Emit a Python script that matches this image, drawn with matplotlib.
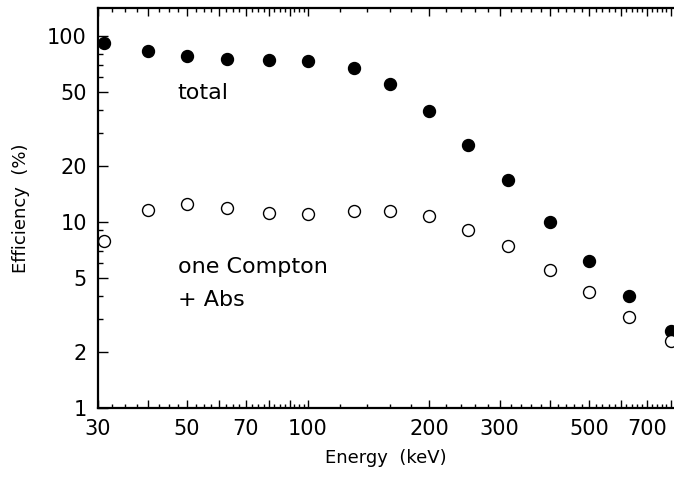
import numpy as np
import matplotlib
matplotlib.use('Agg')
import matplotlib.pyplot as plt
from matplotlib.ticker import FixedLocator, FuncFormatter, NullFormatter

# energies (keV) and efficiencies (%)
energy = [31, 40, 50, 63, 80, 100, 130, 160, 200, 250, 315, 400, 500, 630, 800]
eff_total = [91, 83, 78, 75, 74, 73, 67, 55, 39.5, 26, 16.8, 10.0, 6.2, 4.0, 2.6]
eff_compton = [7.9, 11.6, 12.5, 11.9, 11.2, 11.0, 11.5, 11.5, 10.7, 9.1, 7.4, 5.5, 4.2, 3.1, 2.3]

x_labels = [30, 50, 70, 100, 200, 300, 500, 700]
y_labels = [1, 2, 5, 10, 20, 50, 100]

plt.rcParams['font.family'] = ['DejaVu Sans']

fig = plt.figure(figsize=(6.74, 4.78), dpi=100)
ax = fig.add_axes([98 / 674, 1 - 408 / 478, 1 - 98 / 674, 400 / 478])

ax.plot(energy, eff_total, 'o', color='black', markersize=8.6)
ax.plot(energy, eff_compton, 'o', markerfacecolor='white', markeredgecolor='black',
        markeredgewidth=1.0, markersize=8.6)

ax.set_xscale('log')
ax.set_yscale('log')
ax.set_xlim(30, 815)
ax.set_ylim(1, 141)

# x ticks
x_major = [30, 40, 50, 60, 70, 80, 90, 100, 200, 300, 400, 500, 600, 700, 800]
x_minor = list(np.arange(32.5, 100, 2.5)) + list(np.arange(120, 815, 20))
x_minor = [v for v in x_minor if v not in x_major]
ax.xaxis.set_major_locator(FixedLocator(x_major))
ax.xaxis.set_minor_locator(FixedLocator(x_minor))
ax.xaxis.set_major_formatter(FuncFormatter(lambda v, p: '%d' % v if int(round(v)) in x_labels else ''))
ax.xaxis.set_minor_formatter(NullFormatter())

# y ticks
y_minor = [3, 4, 6, 7, 8, 9, 30, 40, 60, 70, 80, 90]
ax.yaxis.set_major_locator(FixedLocator(y_labels))
ax.yaxis.set_minor_locator(FixedLocator(y_minor))
ax.yaxis.set_major_formatter(FuncFormatter(lambda v, p: '%d' % v))
ax.yaxis.set_minor_formatter(NullFormatter())

ax.tick_params(axis='x', which='major', direction='in', length=6, width=1, top=True,
               labelsize=15, pad=8)
ax.tick_params(axis='x', which='minor', direction='in', length=3, width=1, top=True)
ax.tick_params(axis='y', which='major', direction='in', length=7, width=1, right=False,
               labelsize=15, pad=8)
ax.tick_params(axis='y', which='minor', direction='in', length=3.5, width=1, right=False)

for side in ['left', 'bottom', 'top']:
    ax.spines[side].set_linewidth(1.6)
ax.spines['right'].set_visible(False)

ax.set_xlabel('Energy  (keV)', fontsize=13, labelpad=7)
ax.set_ylabel('Efficiency  (%)', fontsize=13, labelpad=12)

ax.text(47.4, 49.4, 'total', fontsize=16, va='center', ha='left')
ax.text(47.4, 5.73, 'one Compton', fontsize=16, va='center', ha='left')
ax.text(47.4, 3.81, '+ Abs', fontsize=16, va='center', ha='left')

fig.savefig('out.png', dpi=100)
